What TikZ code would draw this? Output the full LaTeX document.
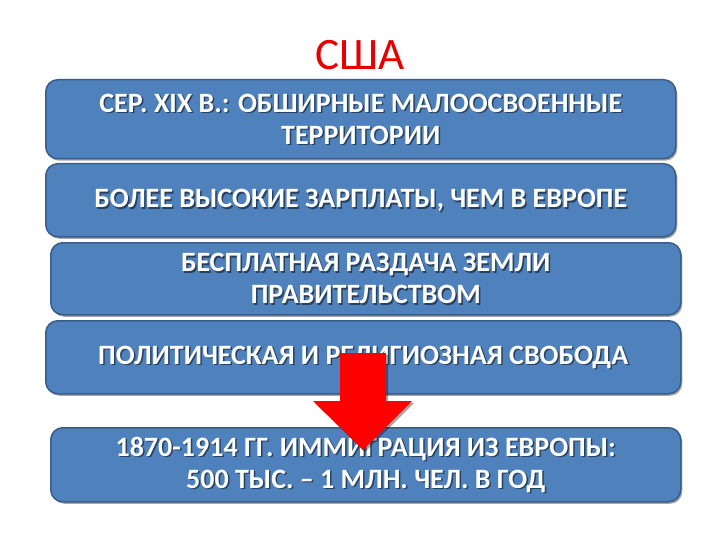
\documentclass[tikz,border=0pt]{standalone}
\usepackage{fontspec}
\setmainfont{Carlito}
\usetikzlibrary{shadows}
\definecolor{boxblue}{RGB}{79,129,189}
\definecolor{boxedge}{RGB}{56,93,138}
\definecolor{titlered}{RGB}{230,0,0}
\begin{document}
\begin{tikzpicture}[x=1pt,y=-1pt,
  bx/.style={draw=boxedge, line width=1.5pt, fill=boxblue, rounded corners=12pt,
    minimum height=74pt, anchor=north west, inner sep=0pt,
    drop shadow={shadow xshift=1.5pt, shadow yshift=-2pt, opacity=0.35, fill=black}},
  txt/.style={text=white, align=center, font=\bfseries\fontsize{28}{32}\selectfont, inner sep=0pt},
  txtsh/.style={txt, text=black, opacity=0.5},
  arr/.style={fill=red, draw=none}]
\useasboundingbox (0,0) rectangle (720,540);
\fill[white] (0,0) rectangle (720,540);
\node[text=titlered, font=\fontsize{45}{45}\selectfont, inner sep=0pt] (title) at (360,55) {США};
\node[bx, minimum width=630pt, minimum height=79pt] (b1) at (45,79) {};
\node[bx, minimum width=630pt, minimum height=73pt] (b2) at (45,163) {};
\node[bx, minimum width=630pt, minimum height=72pt] (b3) at (50,242) {};
\node[bx, minimum width=635pt, minimum height=73pt] (b4) at (45,320) {};
\node[bx, minimum width=630pt, minimum height=74pt] (b5) at (50,427) {};
\foreach \b/\t in {b1/{СЕР. XIX В.: ОБШИРНЫЕ МАЛООСВОЕННЫЕ\\ТЕРРИТОРИИ},
  b2/{БОЛЕЕ ВЫСОКИЕ ЗАРПЛАТЫ, ЧЕМ В ЕВРОПЕ},
  b3/{БЕСПЛАТНАЯ РАЗДАЧА ЗЕМЛИ\\ПРАВИТЕЛЬСТВОМ},
  b4/{ПОЛИТИЧЕСКАЯ И РЕЛИГИОЗНАЯ СВОБОДА},
  b5/{1870-1914 ГГ. ИММИГРАЦИЯ ИЗ ЕВРОПЫ:\\500 ТЫС. – 1 МЛН. ЧЕЛ. В ГОД}} {
  \node[txtsh] (\b s) at ([shift={(1.5pt,-1.5pt)}]\b.center) {\t};
  \node[txt] (\b t) at (\b.center) {\t};
}
\fill[black, opacity=0.35] (342,355) -- (388,355) -- (388,403) -- (414,403) -- (365,452) -- (315,403) -- (342,403) -- cycle;
\fill[arr] (340,353) -- (386,353) -- (386,401) -- (412,401) -- (363,450) -- (313,401) -- (340,401) -- cycle;
\end{tikzpicture}
\end{document}
